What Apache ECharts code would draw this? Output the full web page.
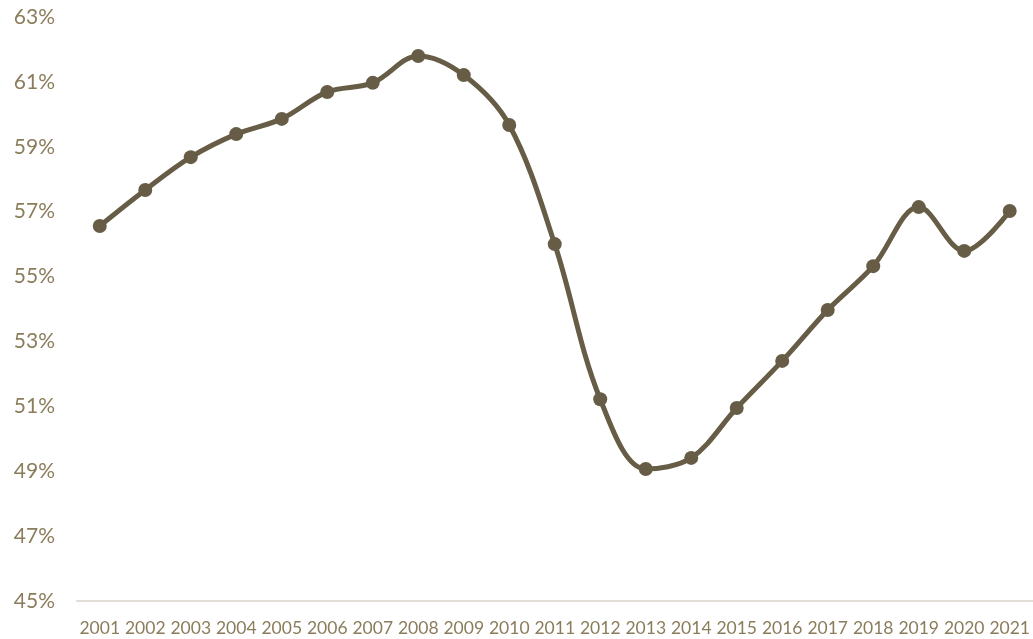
<!DOCTYPE html>
<html>
<head>
<meta charset="utf-8">
<script src="https://cdn.jsdelivr.net/npm/echarts@6/dist/echarts.min.js"></script>
<style>
  html, body { margin: 0; padding: 0; background: #fff; }
  #chart { width: 1033px; height: 639px; }
</style>
</head>
<body>
<div id="chart"></div>
<script>
var years = ['2001', '2002', '2003', '2004', '2005', '2006', '2007', '2008', '2009', '2010',
  '2011', '2012', '2013', '2014', '2015', '2016', '2017', '2018', '2019', '2020', '2021']
var shares = [56.56, 57.67, 58.68, 59.39, 59.86, 60.69, 60.97, 61.8, 61.21, 59.67,
  56.0, 51.22, 49.07, 49.41, 50.95, 52.4, 53.97, 55.32, 57.14, 55.79, 57.02]

var lineColor = '#675d46'
var textColor = '#8b7d5c'

var chart = echarts.init(document.getElementById('chart'))
chart.setOption({
  animation: false,
  grid: {
    left: 77,
    right: 0,
    top: 17,
    bottom: 38
  },
  xAxis: {
    type: 'category',
    data: years,
    boundaryGap: true,
    axisLine: { lineStyle: { color: '#e2ddd6', width: 2 } },
    axisTick: { show: false },
    axisLabel: {
      color: textColor,
      fontFamily: 'Lato',
      fontSize: 17.5,
      margin: 18,
      interval: 0
    }
  },
  yAxis: {
    type: 'value',
    min: 45,
    max: 63,
    interval: 2,
    splitLine: { show: false },
    axisLine: { show: false },
    axisTick: { show: false },
    axisLabel: {
      color: textColor,
      fontFamily: 'Lato',
      fontSize: 21,
      margin: 22,
      formatter: '{value}%'
    }
  },
  series: [{
    type: 'line',
    data: shares,
    smooth: 0.35,
    symbol: 'circle',
    symbolSize: 14,
    lineStyle: { color: lineColor, width: 5 },
    itemStyle: { color: lineColor }
  }]
})
</script>
</body>
</html>
